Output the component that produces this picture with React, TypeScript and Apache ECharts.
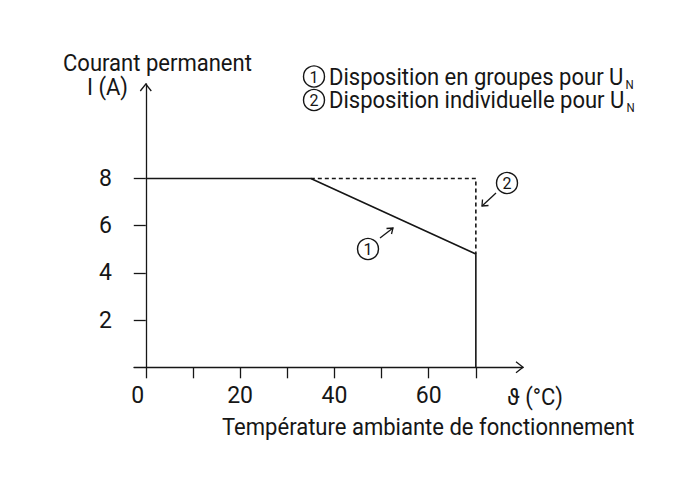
import React, { useEffect, useRef } from 'react';
import * as echarts from 'echarts';

const xTickValues = [0, 10, 20, 30, 40, 50, 60, 70];
const xLabelValues = [0, 20, 40, 60];
const yLabelValues = [2, 4, 6, 8];
const xMin = -2.5;
const xMax = 80;
const yMin = 0;
const yMax = 12;
// curve 1: grouped arrangement (solid)
const solidCurve = [[0, 8], [35, 8], [70, 4.8], [70, 0]];
// curve 2: individual arrangement (dashed)
const dashedCurve = [[35, 8], [70, 8], [70, 4.8]];

const yTitleLines = ['Courant permanent', 'I (A)'];
const xUnit = 'ϑ (°C)';
const xTitle = 'Température ambiante de fonctionnement';
const legendTexts = ['Disposition en groupes pour U', 'Disposition individuelle pour U'];
const legendSub = 'N';
const markers = ['1', '2'];

const FONT = 'Roboto, "Liberation Sans", sans-serif';
const INK = '#161616';
const FS = 23;

function measure(text: string, size: number): number {
  const c = document.createElement('canvas').getContext('2d');
  if (!c) return text.length * size * 0.5;
  c.font = `${size}px ${FONT}`;
  return c.measureText(text).width;
}

export default function App() {
  const ref = useRef<HTMLDivElement>(null);
  useEffect(() => {
    if (!ref.current) return;
    const chart = echarts.init(ref.current, undefined, { renderer: 'svg' });
    chart.setOption({
      animation: false,
      backgroundColor: '#ffffff',
      grid: { left: 134, top: 84, width: 389, height: 283.3 },
      xAxis: {
        type: 'value',
        min: xMin,
        max: xMax,
        splitLine: { show: false },
        axisLine: { show: true, lineStyle: { color: INK, width: 1.3 } },
        axisTick: { show: true, customValues: xTickValues, length: 11, lineStyle: { color: INK, width: 1.3 } },
        axisLabel: {
          customValues: xLabelValues,
          fontSize: FS,
          fontFamily: FONT,
          color: INK,
          margin: 17,
          formatter: (v: number) => (v === 0 ? '{z|0}' : String(v)),
          rich: { z: { fontSize: FS, fontFamily: FONT, color: INK, padding: [0, 16, 0, 0] } },
        },
      },
      yAxis: {
        type: 'value',
        min: yMin,
        max: yMax,
        splitLine: { show: false },
        axisLine: { show: true, onZero: true, lineStyle: { color: INK, width: 1.3 } },
        axisTick: { show: true, customValues: yLabelValues, length: 12, lineStyle: { color: INK, width: 1.3 } },
        axisLabel: { customValues: yLabelValues, fontSize: FS, fontFamily: FONT, color: INK, margin: 22 },
      },
      series: [
        {
          type: 'line',
          data: solidCurve,
          symbol: 'none',
          lineStyle: { color: INK, width: 1.6 },
          z: 3,
        },
        {
          type: 'line',
          data: dashedCurve,
          symbol: 'none',
          lineStyle: { color: INK, width: 1.6, type: [4, 3] },
          z: 2,
        },
      ],
    });

    const k = Math.min(1, 189 / measure(yTitleLines[0], FS));
    const yTip = chart.convertToPixel({ gridIndex: 0 }, [0, yMax]) as number[];
    const xTip = chart.convertToPixel({ gridIndex: 0 }, [xMax, 0]) as number[];
    const lineStyle = { stroke: INK, lineWidth: 1.3, fill: 'none' };
    const txt = (text: string, x: number, y: number, size = FS, align = 'left', sx = k) => ({
      type: 'text',
      x,
      y,
      scaleX: sx,
      style: { text, x: 0, y: 0, fontSize: size, fontFamily: FONT, fill: INK, align, verticalAlign: 'middle' },
    });
    const circ = (cx: number, cy: number, label: string) => [
      { type: 'circle', shape: { cx, cy, r: 10.5 }, style: { ...lineStyle, lineWidth: 1.4 } },
      txt(label, cx, cy + 0.5, 16, 'center', 1),
    ];
    const elements: any[] = [
      // axis arrowheads
      { type: 'polyline', shape: { points: [[yTip[0] - 5.5, yTip[1] + 7], [yTip[0], yTip[1]], [yTip[0] + 5.5, yTip[1] + 7]] }, style: lineStyle },
      { type: 'polyline', shape: { points: [[xTip[0] - 7, xTip[1] - 5.5], [xTip[0], xTip[1]], [xTip[0] - 7, xTip[1] + 5.5]] }, style: lineStyle },
      txt(yTitleLines[0], 63, 62.5),
      txt(yTitleLines[1], 87, 86.5),
      txt(xUnit, 507, 397),
      txt(xTitle, 222, 427),
    ];
    const legendY = [76.5, 100];
    legendTexts.forEach((t, i) => {
      elements.push(...circ(314, legendY[i], markers[i]));
      elements.push(txt(t, 329, legendY[i]));
      const w = measure(t, FS) * k;
      elements.push(txt(legendSub, 329 + w + 2, legendY[i] + 8, 12));
    });
    // annotation 1
    elements.push(...circ(368, 249, markers[0]));
    elements.push({ type: 'line', shape: { x1: 380, y1: 238, x2: 393, y2: 228 }, style: lineStyle });
    elements.push({ type: 'polyline', shape: { points: [[386.5, 228.5], [393, 228], [391.5, 234]] }, style: lineStyle });
    // annotation 2
    elements.push(...circ(507, 183, markers[1]));
    elements.push({ type: 'line', shape: { x1: 496, y1: 193, x2: 482, y2: 206 }, style: lineStyle });
    elements.push({ type: 'polyline', shape: { points: [[482.5, 199.5], [482, 206], [488.5, 205.5]] }, style: lineStyle });

    chart.setOption({ graphic: { elements } });
    return () => chart.dispose();
  }, []);
  return <div ref={ref} style={{ position: 'fixed', left: 0, top: 0, width: 697, height: 496 }} />;
}
